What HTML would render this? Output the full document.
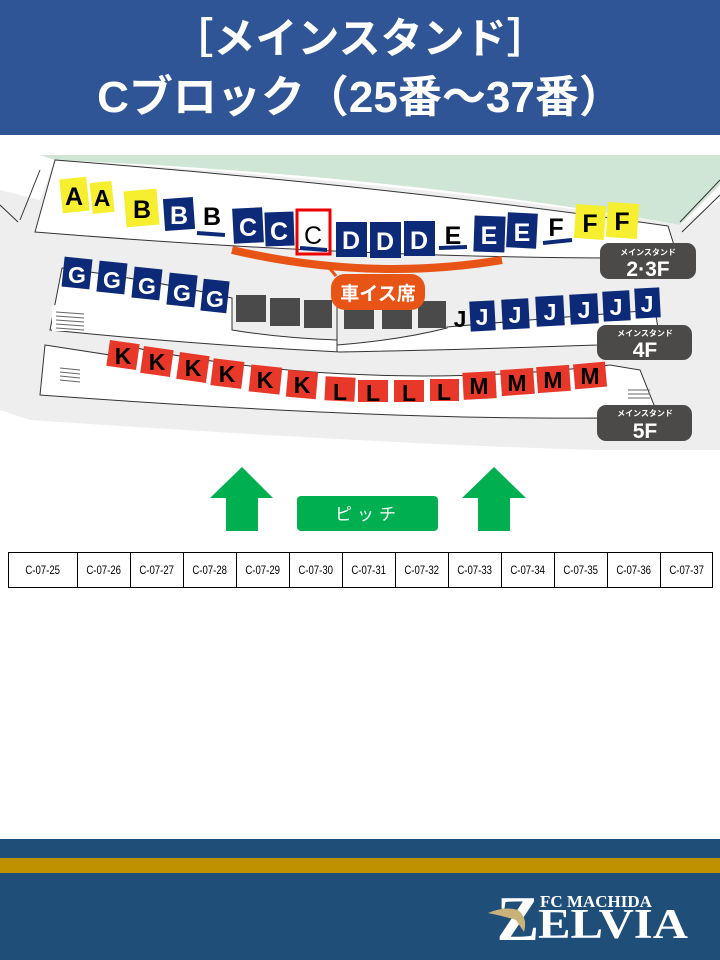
<!DOCTYPE html>
<html><head><meta charset="utf-8"><style>
html,body{margin:0;padding:0;background:#fff}
body{width:720px;height:960px;position:relative;overflow:hidden;font-family:"Liberation Sans","Noto Sans CJK JP",sans-serif}
.hdr{position:absolute;left:0;top:0;width:720px;height:135px;background:#2f5597;color:#fff;text-align:center;font-weight:bold;font-family:"Liberation Sans","Noto Sans CJK JP",sans-serif}
.hdr div{position:absolute;left:0;width:720px;font-size:42px;line-height:50px}
table{position:absolute;left:8px;top:552px;border-collapse:collapse;font-family:"Liberation Sans Narrow","Liberation Sans",sans-serif}
td{border:1px solid #000;height:34px;font-size:12px;text-align:center;padding:0}
td span{display:inline-block;transform:scaleX(0.8)}
.ft{position:absolute;left:0;top:839px;width:720px;height:121px;background:#1f4e79}
.gold{position:absolute;left:0;top:858px;width:720px;height:15px;background:#bf9000}
</style></head><body>
<div class="hdr"><div style="top:14px">［メインスタンド］</div><div style="top:73px;font-size:44px">Cブロック（25番～37番）</div></div>

<svg width="720" height="960" style="position:absolute;left:0;top:0" xmlns="http://www.w3.org/2000/svg">
<path d="M40 155 L720 155 L720 185 L680 225 Q 400 175 55 160 Z" fill="#cfe5d6"/>
<path d="M0 190 L40 200 L55 160 Q400 180 680 225 L720 200 L720 450 L600 450 Q 400 445 30 420 L0 410 Z" fill="#eeeeee"/>
<path d="M55 160 Q 380 185 668 226 L678 258 Q 380 260 35 232 Z" fill="#fff" stroke="#333" stroke-width="1"/>
<path d="M40 170 L20 220 M0 205 L18 222" stroke="#333" fill="none"/>
<path d="M720 180 L680 222 M720 195 L682 232" stroke="#333" fill="none"/>
<path d="M62 268 Q 150 280 232 298 L232 330 Q 280 338 337 340 L337 345 Q 400 340 447 328 L447 327 Q 550 318 655 310 L660 340 L597 345 Q 450 350 340 352 Q 200 345 50 330 Z" fill="#fff" stroke="#333" stroke-width="1"/>
<rect x="52" y="305" width="30" height="26" fill="#fff"/>
<g stroke="#666" stroke-width="1"><line x1="56" y1="312" x2="84" y2="314"/><line x1="56" y1="316" x2="84" y2="318"/><line x1="56" y1="320" x2="84" y2="322"/><line x1="56" y1="324" x2="84" y2="326"/><line x1="56" y1="328" x2="84" y2="330"/></g>
<path d="M45 345 L110 355 L112 343 Q 350 395 610 365 L640 370 L660 420 L600 418 Q 380 420 40 395 Z" fill="#fff" stroke="#333" stroke-width="1"/>
<g stroke="#666" stroke-width="1"><line x1="60" y1="368" x2="80" y2="370"/><line x1="60" y1="372" x2="80" y2="374"/><line x1="60" y1="376" x2="80" y2="378"/><line x1="60" y1="380" x2="80" y2="382"/><line x1="628" y1="390" x2="650" y2="390"/><line x1="628" y1="394" x2="650" y2="394"/><line x1="628" y1="398" x2="650" y2="398"/></g>

<g font-family="Liberation Sans, sans-serif" font-weight="bold" font-size="25" text-anchor="middle">
<rect x="61" y="178" width="27" height="34" fill="#f5ef2f" transform="rotate(-6 74 195)"/><text x="74" y="205">A</text>
<rect x="91" y="182" width="22" height="31" fill="#f5ef2f" transform="rotate(-6 102 197)"/><text x="102" y="206" font-size="23">A</text>
<rect x="125" y="190" width="33" height="36" fill="#f5ef2f" transform="rotate(-5 141 208)"/><text x="142" y="218">B</text>
<rect x="164" y="198" width="30" height="32" fill="#0d2a78" transform="rotate(-4 179 214)"/><text x="179" y="224" fill="#fff">B</text>
<text x="212" y="225">B</text><line x1="197" y1="233" x2="225" y2="235" stroke="#0d2a78" stroke-width="4"/>
<rect x="233" y="208" width="30" height="35" fill="#0d2a78" transform="rotate(-3 248 225)"/><text x="248" y="236" fill="#fff">C</text>
<rect x="265" y="212" width="29" height="34" fill="#0d2a78" transform="rotate(-2 279 229)"/><text x="279" y="240" fill="#fff">C</text>
<text x="313" y="244" font-weight="normal">C</text><line x1="300" y1="248" x2="327" y2="250" stroke="#0d2a78" stroke-width="4"/>
<rect x="297" y="210" width="33" height="44" fill="none" stroke="#e00" stroke-width="3"/>
<rect x="336" y="222" width="31" height="35" fill="#0d2a78"/><text x="351" y="249" fill="#fff">D</text>
<rect x="370" y="222" width="31" height="36" fill="#0d2a78"/><text x="385" y="250" fill="#fff">D</text>
<rect x="404" y="221" width="31" height="35" fill="#0d2a78"/><text x="419" y="249" fill="#fff">D</text>
<text x="453" y="244">E</text><line x1="439" y1="248" x2="467" y2="247" stroke="#0d2a78" stroke-width="4"/>
<rect x="474" y="216" width="31" height="36" fill="#0d2a78" transform="rotate(2 489 234)"/><text x="489" y="244" fill="#fff">E</text>
<rect x="507" y="213" width="30" height="35" fill="#0d2a78" transform="rotate(3 522 230)"/><text x="522" y="241" fill="#fff">E</text>
<text x="556" y="236">F</text><line x1="543" y1="243" x2="572" y2="240" stroke="#0d2a78" stroke-width="4"/>
<rect x="575" y="205" width="30" height="34" fill="#f5ef2f" transform="rotate(4 590 222)"/><text x="590" y="232">F</text>
<rect x="607" y="203" width="31" height="35" fill="#f5ef2f" transform="rotate(4 622 220)"/><text x="622" y="230">F</text>

<g fill="#0d2a78"><rect x="63" y="258" width="28" height="30" transform="rotate(6 77 273)"/><rect x="98" y="262" width="28" height="31" transform="rotate(6 112 277)"/><rect x="133" y="268" width="28" height="31" transform="rotate(6 147 283)"/><rect x="168" y="274" width="28" height="32" transform="rotate(6 182 290)"/><rect x="202" y="280" width="26" height="32" transform="rotate(6 215 296)"/></g>
<g fill="#fff" font-size="23"><text x="77" y="283">G</text><text x="112" y="288">G</text><text x="147" y="294">G</text><text x="182" y="301">G</text><text x="215" y="307">G</text></g>
<g fill="#4a4a4a"><rect x="236" y="295" width="30" height="27"/><rect x="270" y="298" width="30" height="28"/><rect x="304" y="300" width="28" height="28"/><rect x="344" y="302" width="30" height="27"/><rect x="382" y="302" width="30" height="27"/><rect x="418" y="301" width="28" height="27"/></g>
<line x1="337" y1="300" x2="337" y2="352" stroke="#333"/>
<text x="460" y="327" font-size="23">J</text>
<g fill="#0d2a78"><rect x="470" y="301" width="25" height="30" transform="rotate(-3 482 316)"/><rect x="502" y="299" width="27" height="30" transform="rotate(-3 515 314)"/><rect x="536" y="296" width="28" height="30" transform="rotate(-3 550 311)"/><rect x="570" y="294" width="28" height="30" transform="rotate(-3 584 309)"/><rect x="603" y="291" width="27" height="30" transform="rotate(-3 616 306)"/><rect x="635" y="288" width="25" height="30" transform="rotate(-3 647 303)"/></g>
<g fill="#fff" font-size="23"><text x="482" y="325">J</text><text x="515" y="323">J</text><text x="550" y="320">J</text><text x="584" y="318">J</text><text x="616" y="315">J</text><text x="647" y="312">J</text></g>

<g fill="#e8382a">
<rect x="108" y="342" width="30" height="26" transform="rotate(8 123 355)"/><rect x="142" y="348" width="30" height="27" transform="rotate(8 157 361)"/><rect x="178" y="354" width="30" height="27" transform="rotate(8 193 367)"/><rect x="212" y="360" width="31" height="27" transform="rotate(7 227 373)"/><rect x="250" y="366" width="31" height="27" transform="rotate(6 265 379)"/><rect x="287" y="371" width="30" height="27" transform="rotate(5 302 384)"/>
<rect x="325" y="377" width="30" height="24" transform="rotate(3 340 389)"/><rect x="358" y="380" width="30" height="22"/><rect x="394" y="380" width="30" height="22"/><rect x="430" y="379" width="29" height="22"/>
<rect x="463" y="372" width="33" height="27" transform="rotate(-3 479 385)"/><rect x="501" y="369" width="33" height="26" transform="rotate(-4 517 382)"/><rect x="537" y="366" width="33" height="26" transform="rotate(-4 553 379)"/><rect x="574" y="363" width="32" height="25" transform="rotate(-5 590 375)"/></g>
<g fill="#000" font-size="23"><text x="123" y="364">K</text><text x="157" y="370">K</text><text x="193" y="376">K</text><text x="227" y="382">K</text><text x="265" y="388">K</text><text x="302" y="393">K</text><text x="340" y="400">L</text><text x="373" y="401">L</text><text x="409" y="401">L</text><text x="444" y="400">L</text><text x="479" y="394">M</text><text x="517" y="391">M</text><text x="553" y="388">M</text><text x="590" y="384">M</text></g>
</g>

<path d="M232 250 Q 370 282 502 260" stroke="#e85416" stroke-width="8" fill="none"/>
<path d="M326 264 L336 276" stroke="#e85416" stroke-width="3"/>
<rect x="331" y="274" width="94" height="36" rx="14" fill="#e85416"/>
<text x="378" y="300" fill="#fff" font-size="19" font-weight="bold" text-anchor="middle" font-family="Liberation Sans, Noto Sans CJK JP, sans-serif">車イス席</text>

<g font-family="Liberation Sans, Noto Sans CJK JP, sans-serif" fill="#fff" font-weight="bold" text-anchor="middle">
<rect x="600" y="243" width="96" height="36" rx="9" fill="#4c4a48"/><text x="648" y="255" font-size="8">メインスタンド</text><text x="648" y="276" font-size="21">2·3F</text>
<rect x="597" y="325" width="95" height="35" rx="9" fill="#4c4a48"/><text x="645" y="336" font-size="8">メインスタンド</text><text x="645" y="357" font-size="21">4F</text>
<rect x="597" y="405" width="95" height="36" rx="9" fill="#4c4a48"/><text x="645" y="416" font-size="8">メインスタンド</text><text x="645" y="438" font-size="21">5F</text>
</g>

<polygon points="242,467 273,498 258,498 258,531 226,531 226,498 210,498" fill="#00b050"/>
<polygon points="494,467 526,498 510,498 510,531 478,531 478,498 462,498" fill="#00b050"/>
<rect x="297" y="496" width="141" height="35" rx="4" fill="#00b050"/>
<text x="368" y="520" fill="#fff" font-size="17" text-anchor="middle" letter-spacing="5" font-family="Liberation Sans, Noto Sans CJK JP, sans-serif">ピッチ</text>
</svg>

<table><tr>
<td style="width:68px"><span>C-07-25</span></td><td style="width:52px"><span>C-07-26</span></td><td style="width:52px"><span>C-07-27</span></td><td style="width:52px"><span>C-07-28</span></td><td style="width:52px"><span>C-07-29</span></td><td style="width:52px"><span>C-07-30</span></td><td style="width:52px"><span>C-07-31</span></td><td style="width:52px"><span>C-07-32</span></td><td style="width:52px"><span>C-07-33</span></td><td style="width:52px"><span>C-07-34</span></td><td style="width:52px"><span>C-07-35</span></td><td style="width:52px"><span>C-07-36</span></td><td style="width:51px"><span>C-07-37</span></td>
</tr></table>

<div class="ft"></div><div class="gold"></div>
<svg width="720" height="960" style="position:absolute;left:0;top:0">
<text x="518" y="940" fill="#fff" font-family="Liberation Serif, serif" font-weight="bold" font-size="64" text-anchor="middle">Z</text>
<path d="M488 913 Q 505 906 518 910 Q 528 918 524 932 L516 920 Q 503 916 488 913 Z" fill="#c8b27a"/>
<text x="540" y="907" fill="#fff" font-family="Liberation Serif, serif" font-weight="bold" font-size="17">FC MACHIDA</text>
<text x="538" y="938" fill="#fff" font-family="Liberation Serif, serif" font-weight="bold" font-size="42" textLength="150" lengthAdjust="spacingAndGlyphs">ELVIA</text>
</svg>
</body></html>
